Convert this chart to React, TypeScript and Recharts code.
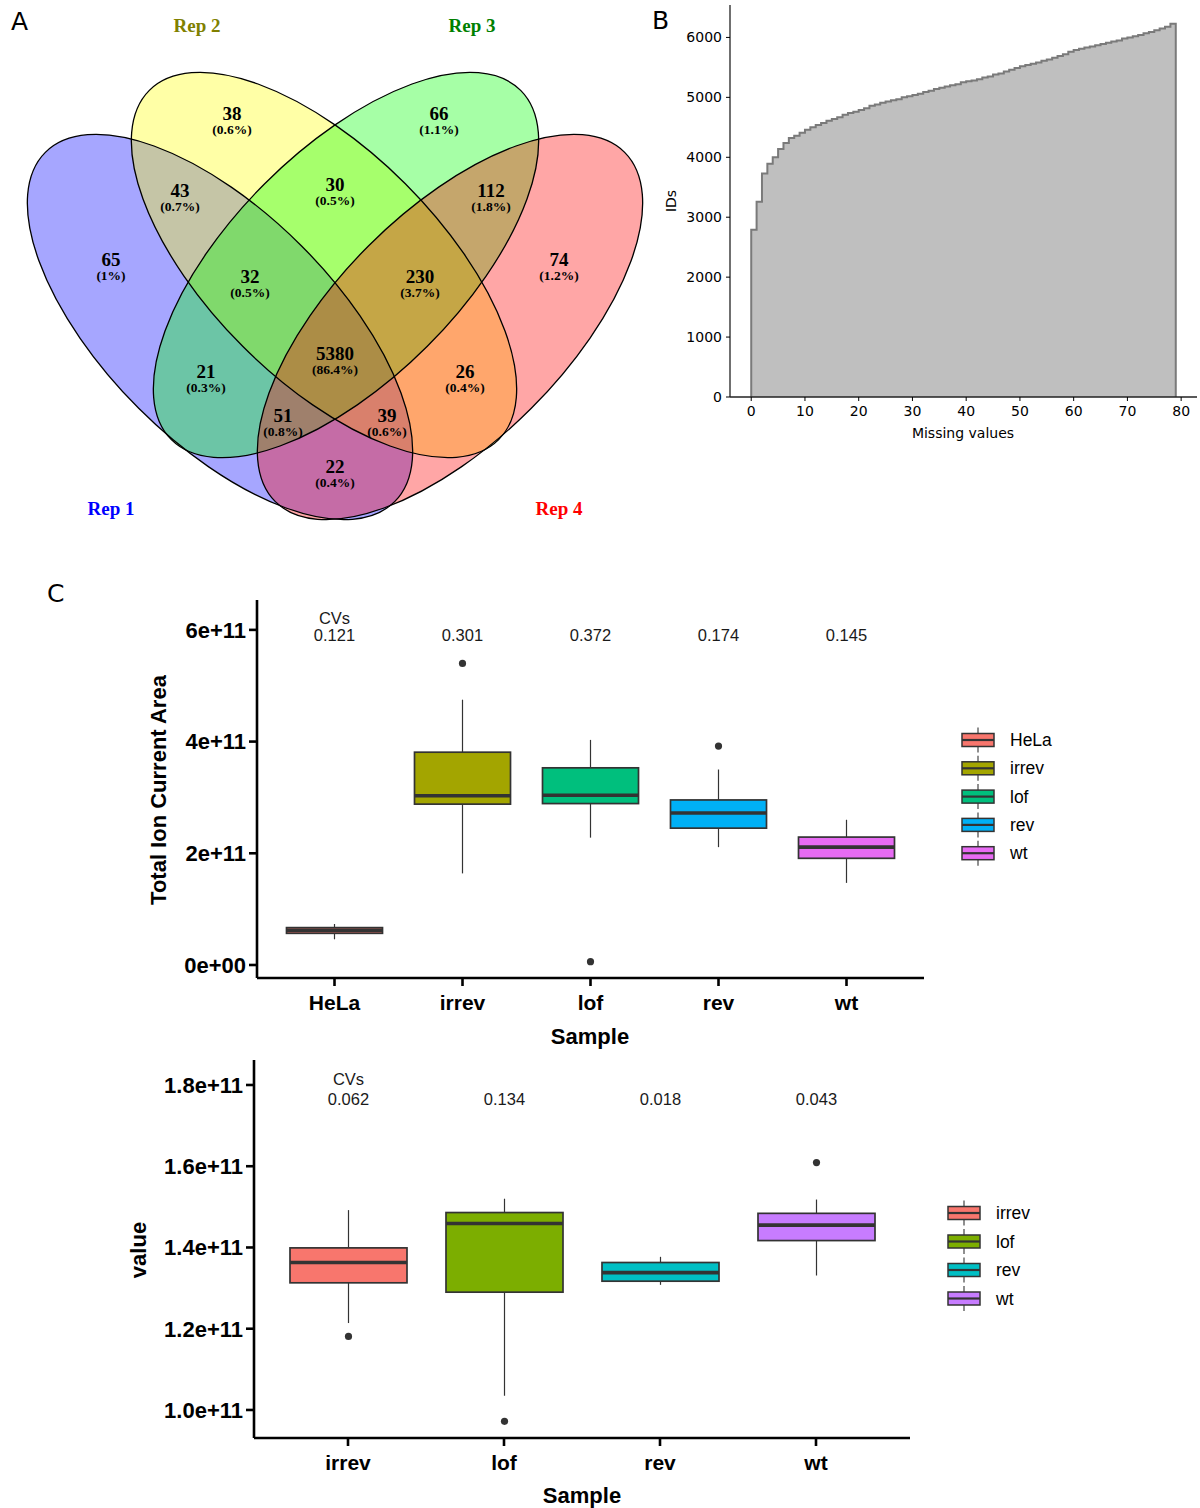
import React from 'react';
import {
  ScatterChart, Scatter, XAxis, YAxis, AreaChart, Area, ComposedChart, Bar, Label,
} from 'recharts';

const FONT_SANS = '"Liberation Sans", Arial, sans-serif';
const FONT_SERIF = '"Liberation Serif", "Times New Roman", serif';
const FONT_MPL = '"DejaVu Sans", sans-serif';

// ================= Panel A: Venn =================
const vennSets = ['Rep 1', 'Rep 2', 'Rep 3', 'Rep 4'];
const vennFill = ['#0000ff', '#ffff00', '#00ff00', '#ff0000'];
const vennLabelColor = ['#0000ff', '#808000', '#008000', '#ff0000'];
// ellipse geometry (layout, in chart pixel units)
const ellipseX = [220, 324, 346, 450];
const ellipseY = [327, 265, 265, 327];
const ellipseRx = [247, 247, 247, 247];
const ellipseRy = [115, 115, 115, 115];
const ellipseAngle = [45, 45, -45, -45];
const setLabelX = [111, 197, 472, 559];
const setLabelY = [508, 25, 25, 508];

const regionCounts = [65, 38, 66, 74, 43, 30, 112, 32, 230, 5380, 21, 26, 51, 39, 22];
const regionPcts = ['(1%)', '(0.6%)', '(1.1%)', '(1.2%)', '(0.7%)', '(0.5%)', '(1.8%)', '(0.5%)', '(3.7%)', '(86.4%)', '(0.3%)', '(0.4%)', '(0.8%)', '(0.6%)', '(0.4%)'];
const regionX = [111, 232, 439, 559, 180, 335, 491, 250, 420, 335, 206, 465, 283, 387, 335];
const regionY = [259, 113, 113, 259, 190, 184, 190, 276, 276, 353, 371, 371, 415, 415, 466];

const ellipseData = vennSets.map((s, i) => ({
  x: ellipseX[i], y: ellipseY[i], rx: ellipseRx[i], ry: ellipseRy[i], angle: ellipseAngle[i], fill: vennFill[i], name: s,
}));
const regionData = regionCounts.map((c, i) => ({ x: regionX[i], y: regionY[i], count: c, pct: regionPcts[i] }));
const setLabelData = vennSets.map((s, i) => ({ x: setLabelX[i], y: setLabelY[i], name: s, color: vennLabelColor[i] }));

const EllipseFill = (p: any) => {
  const d = p.payload;
  return (
    <ellipse cx={p.cx} cy={p.cy} rx={d.rx} ry={d.ry} transform={`rotate(${d.angle} ${p.cx} ${p.cy})`}
      fill={d.fill} fillOpacity={0.35} stroke="none" />
  );
};
const EllipseStroke = (p: any) => {
  const d = p.payload;
  return (
    <ellipse cx={p.cx} cy={p.cy} rx={d.rx} ry={d.ry} transform={`rotate(${d.angle} ${p.cx} ${p.cy})`}
      fill="none" stroke="#000" strokeWidth={1.3} />
  );
};
const RegionLabel = (p: any) => (
  <g>
    <text x={p.cx} y={p.cy} textAnchor="middle" dominantBaseline="central" fontFamily={FONT_SERIF}
      fontWeight="bold" fontSize={19} fill="#000">{p.payload.count}</text>
    <text x={p.cx} y={p.cy + 16} textAnchor="middle" dominantBaseline="central" fontFamily={FONT_SERIF}
      fontWeight="bold" fontSize={13.5} fill="#000">{p.payload.pct}</text>
  </g>
);
const SetLabel = (p: any) => (
  <text x={p.cx} y={p.cy} textAnchor="middle" dominantBaseline="central" fontFamily={FONT_SERIF}
    fontWeight="bold" fontSize={19} fill={p.payload.color}>{p.payload.name}</text>
);

function Venn() {
  return (
    <ScatterChart width={650} height={540} margin={{ top: 0, right: 0, bottom: 0, left: 0 }}>
      <XAxis type="number" dataKey="x" domain={[0, 650]} hide allowDataOverflow />
      <YAxis type="number" dataKey="y" domain={[0, 540]} hide reversed allowDataOverflow />
      <Scatter data={ellipseData} shape={EllipseFill} isAnimationActive={false} />
      <Scatter data={ellipseData} shape={EllipseStroke} isAnimationActive={false} />
      <Scatter data={regionData} shape={RegionLabel} isAnimationActive={false} />
      <Scatter data={setLabelData} shape={SetLabel} isAnimationActive={false} />
    </ScatterChart>
  );
}

// ================= Panel B: cumulative step =================
const missingIds = [
  2790, 3260, 3730, 3890, 4000, 4140, 4240, 4320, 4360, 4410,
  4460, 4500, 4540, 4570, 4610, 4640, 4670, 4710, 4740, 4760,
  4790, 4820, 4860, 4880, 4910, 4930, 4950, 4970, 5000, 5020,
  5040, 5060, 5090, 5110, 5140, 5160, 5180, 5200, 5220, 5250,
  5270, 5280, 5300, 5330, 5350, 5380, 5400, 5430, 5460, 5490,
  5520, 5540, 5560, 5580, 5610, 5630, 5660, 5690, 5720, 5760,
  5790, 5810, 5830, 5850, 5870, 5890, 5910, 5930, 5950, 5980,
  6000, 6020, 6040, 6070, 6090, 6120, 6150, 6180, 6230,
];
const xTicksB = [0, 10, 20, 30, 40, 50, 60, 70, 80];
const yTicksB = [0, 1000, 2000, 3000, 4000, 5000, 6000];
const lastBin = missingIds.length;
const histData = [
  { x: 0, ids: 0 },
  ...missingIds.map((v, i) => ({ x: i, ids: v })),
  { x: lastBin, ids: missingIds[lastBin - 1] },
  { x: lastBin, ids: 0 },
];

function StepChart() {
  const tickStyle = { fontSize: 14, fill: '#000', fontFamily: FONT_MPL };
  return (
    <AreaChart width={550} height={450} data={histData} margin={{ top: 5, right: 3, bottom: 0, left: 0 }}>
      <XAxis type="number" dataKey="x" domain={[-3.95, 82.95]} ticks={xTicksB} allowDataOverflow height={53}
        tick={tickStyle} tickSize={4} tickMargin={5} tickLine={{ stroke: '#000' }} axisLine={{ stroke: '#222', strokeWidth: 1.3 }}>
        <Label content={() => (
          <text x={313} y={433} textAnchor="middle" dominantBaseline="central" fontSize={14} fontFamily={FONT_MPL} fill="#000">Missing values</text>
        )} />
      </XAxis>
      <XAxis xAxisId="top" orientation="top" type="number" domain={[-3.95, 82.95]} allowDataOverflow height={0}
        tick={false} tickLine={false} axisLine={{ stroke: '#222', strokeWidth: 1.3 }} />
      <YAxis type="number" domain={[0, 6541]} ticks={yTicksB} allowDataOverflow width={80}
        tick={tickStyle} tickSize={4} tickMargin={4} tickLine={{ stroke: '#000' }} axisLine={{ stroke: '#222', strokeWidth: 1.3 }}>
        <Label content={() => (
          <text x={21} y={201} transform="rotate(-90 21 201)" textAnchor="middle" dominantBaseline="central" fontSize={14} fontFamily={FONT_MPL} fill="#000">IDs</text>
        )} />
      </YAxis>
      <YAxis yAxisId="right" orientation="right" type="number" domain={[0, 6541]} allowDataOverflow width={0}
        tick={false} tickLine={false} axisLine={{ stroke: '#222', strokeWidth: 1.3 }} />
      <Area type="stepAfter" dataKey="ids" stroke="#7a7a7a" strokeWidth={2} fill="#bfbfbf" fillOpacity={1}
        isAnimationActive={false} dot={false} activeDot={false} />
    </AreaChart>
  );
}

// ================= Panel C: boxplots =================
const topCats = ['HeLa', 'irrev', 'lof', 'rev', 'wt'];
const topColors = ['#F8766D', '#A3A500', '#00BF7D', '#00B0F6', '#E76BF3'];
const topLow = [0.46e11, 1.64e11, 2.28e11, 2.11e11, 1.47e11];
const topQ1 = [0.567e11, 2.88e11, 2.89e11, 2.45e11, 1.91e11];
const topMed = [0.62e11, 3.03e11, 3.04e11, 2.72e11, 2.11e11];
const topQ3 = [0.669e11, 3.81e11, 3.53e11, 2.955e11, 2.29e11];
const topHigh = [0.734e11, 4.75e11, 4.03e11, 3.50e11, 2.60e11];
const topOutliers = [[], [5.40e11], [0.06e11], [3.92e11], []];
const topCVs = ['0.121', '0.301', '0.372', '0.174', '0.145'];
const topYTicks = [0, 2e11, 4e11, 6e11];
const topYLabels = ['0e+00', '2e+11', '4e+11', '6e+11'];
const TOP_CV_Y = 5.90e11;

const botCats = ['irrev', 'lof', 'rev', 'wt'];
const botColors = ['#F8766D', '#7CAE00', '#00BFC4', '#C77CFF'];
const botLow = [1.214e11, 1.035e11, 1.308e11, 1.331e11];
const botQ1 = [1.313e11, 1.290e11, 1.317e11, 1.417e11];
const botMed = [1.363e11, 1.459e11, 1.338e11, 1.455e11];
const botQ3 = [1.399e11, 1.486e11, 1.363e11, 1.484e11];
const botHigh = [1.492e11, 1.520e11, 1.377e11, 1.518e11];
const botOutliers = [[1.181e11], [0.972e11], [], [1.609e11]];
const botCVs = ['0.062', '0.134', '0.018', '0.043'];
const botYTicks = [1.0e11, 1.2e11, 1.4e11, 1.6e11, 1.8e11];
const botYLabels = ['1.0e+11', '1.2e+11', '1.4e+11', '1.6e+11', '1.8e+11'];
const BOT_CV_Y = 1.765e11;

function buildRows(cats: string[], colors: string[], lo: number[], q1: number[], med: number[], q3: number[], hi: number[], outs: number[][], cvs: string[]) {
  return cats.map((name, i) => ({
    name, color: colors[i], lo: lo[i], q1: q1[i], med: med[i], q3: q3[i], hi: hi[i], out: outs[i], cv: cvs[i], first: i === 0,
  }));
}
const topRows = buildRows(topCats, topColors, topLow, topQ1, topMed, topQ3, topHigh, topOutliers, topCVs);
const botRows = buildRows(botCats, botColors, botLow, botQ1, botMed, botQ3, botHigh, botOutliers, botCVs);

const LINE = '#333333';

function BoxShape(props: any) {
  const { x, y, width, height, cvY, headerGap } = props;
  const d = props.payload ?? props;
  const top = Math.min(y, y + height);
  const bottom = Math.max(y, y + height);
  const span = d.hi - d.lo;
  const px = (v: number) => bottom - (bottom - top) * (v - d.lo) / span;
  const cx = x + width / 2;
  return (
    <g>
      <line x1={cx} x2={cx} y1={px(d.hi)} y2={px(d.q3)} stroke={LINE} strokeWidth={1.2} />
      <line x1={cx} x2={cx} y1={px(d.q1)} y2={px(d.lo)} stroke={LINE} strokeWidth={1.2} />
      <rect x={x} y={px(d.q3)} width={width} height={px(d.q1) - px(d.q3)} fill={d.color} stroke={LINE} strokeWidth={1.7} />
      <line x1={x} x2={x + width} y1={px(d.med)} y2={px(d.med)} stroke={LINE} strokeWidth={3.6} />
      {d.out.map((o: number, k: number) => (
        <circle key={k} cx={cx} cy={px(o)} r={3.6} fill={LINE} />
      ))}
      <text x={cx} y={px(cvY)} textAnchor="middle" dominantBaseline="central" fontFamily={FONT_SANS} fontSize={16.5} fill="#1a1a1a">{d.cv}</text>
      {d.first && (
        <text x={cx} y={px(cvY) - headerGap} textAnchor="middle" dominantBaseline="central" fontFamily={FONT_SANS} fontSize={16.5} fill="#1a1a1a">CVs</text>
      )}
    </g>
  );
}

function BoxChart(p: {
  rows: any[]; width: number; height: number; margin: any; yWidth: number; xHeight: number; pad: number; barSize: number;
  domain: [number, number]; ticks: number[]; tickLabels: string[]; cvY: number; headerGap: number;
  yTitle: string; yTitleX: number; yTitleY: number; xTitleX: number; xTitleY: number;
}) {
  const fmt = (v: number) => {
    const i = p.ticks.findIndex((t) => Math.abs(t - v) < 1e6);
    return i >= 0 ? p.tickLabels[i] : String(v);
  };
  const axisLine = { stroke: '#000', strokeWidth: 2.6 };
  const tickLine = { stroke: '#000', strokeWidth: 2.6 };
  const xtick = { fontSize: 21, fontWeight: 'bold', fill: '#000', fontFamily: FONT_SANS };
  const ytick = { fontSize: 22, fontWeight: 'bold', fill: '#000', fontFamily: FONT_SANS };
  return (
    <ComposedChart width={p.width} height={p.height} data={p.rows} margin={p.margin}>
      <XAxis dataKey="name" type="category" padding={{ left: p.pad, right: p.pad }} height={p.xHeight}
        tick={xtick} tickSize={8} tickMargin={9} tickLine={tickLine} axisLine={axisLine}>
        <Label content={() => (
          <text x={p.xTitleX} y={p.xTitleY} textAnchor="middle" dominantBaseline="central" fontSize={22} fontWeight="bold" fontFamily={FONT_SANS} fill="#000">Sample</text>
        )} />
      </XAxis>
      <YAxis type="number" domain={p.domain} ticks={p.ticks} allowDataOverflow width={p.yWidth}
        tickFormatter={fmt} tick={ytick} tickSize={8} tickMargin={3} tickLine={tickLine} axisLine={axisLine}>
        <Label content={() => (
          <text x={p.yTitleX} y={p.yTitleY} transform={`rotate(-90 ${p.yTitleX} ${p.yTitleY})`} textAnchor="middle" dominantBaseline="central" fontSize={22} fontWeight="bold" fontFamily={FONT_SANS} fill="#000">{p.yTitle}</text>
        )} />
      </YAxis>
      <Bar dataKey={(d: any) => [d.lo, d.hi]} barSize={p.barSize} isAnimationActive={false}
        shape={(sp: any) => <BoxShape {...sp} cvY={p.cvY} headerGap={p.headerGap} />} activeBar={false} />
    </ComposedChart>
  );
}

function BoxLegend(p: { cats: string[]; colors: string[]; spacing: number }) {
  const keyW = 32;
  const boxH = 13;
  const stub = 6;
  const h = p.spacing * p.cats.length + 10;
  return (
    <svg width={120} height={h}>
      {p.cats.map((c, i) => {
        const cy = 14 + i * p.spacing;
        return (
          <g key={c}>
            <line x1={keyW / 2 + 1} x2={keyW / 2 + 1} y1={cy - boxH / 2 - stub} y2={cy + boxH / 2 + stub} stroke={LINE} strokeWidth={1.1} />
            <rect x={1} y={cy - boxH / 2} width={keyW} height={boxH} fill={p.colors[i]} stroke={LINE} strokeWidth={1.5} />
            <line x1={1} x2={keyW + 1} y1={cy} y2={cy} stroke={LINE} strokeWidth={2.2} />
            <text x={keyW + 17} y={cy} dominantBaseline="central" fontFamily={FONT_SANS} fontSize={17.5} fill="#000">{c}</text>
          </g>
        );
      })}
    </svg>
  );
}

const abs = (left: number, top: number): React.CSSProperties => ({ position: 'absolute', left, top });
const letterStyle: React.CSSProperties = { position: 'absolute', fontFamily: FONT_MPL, fontSize: 25, lineHeight: '25px', color: '#000' };

export default function App() {
  return (
    <div style={{ position: 'absolute', left: 0, top: 0, width: 1200, height: 1508, background: '#fff', overflow: 'hidden' }}>
      <div style={{ ...letterStyle, left: 11, top: 9 }}>A</div>
      <div style={{ ...letterStyle, left: 652, top: 8 }}>B</div>
      <div style={{ ...letterStyle, left: 47, top: 581 }}>C</div>

      <div style={abs(0, 0)}><Venn /></div>
      <div style={abs(650, 0)}><StepChart /></div>

      <div style={abs(0, 560)}>
        <BoxChart rows={topRows} width={930} height={500} margin={{ top: 40, right: 6, bottom: 0, left: 0 }}
          yWidth={257} xHeight={82} pad={13.5} barSize={96} domain={[-0.233e11, 6.535e11]}
          ticks={topYTicks} tickLabels={topYLabels} cvY={TOP_CV_Y} headerGap={17}
          yTitle="Total Ion Current Area" yTitleX={158} yTitleY={230} xTitleX={590} xTitleY={476} />
      </div>
      <div style={abs(961, 726)}><BoxLegend cats={topCats} colors={topColors} spacing={28.3} /></div>

      <div style={abs(0, 1030)}>
        <BoxChart rows={botRows} width={920} height={478} margin={{ top: 30, right: 10, bottom: 0, left: 0 }}
          yWidth={254} xHeight={70} pad={16} barSize={117} domain={[0.931e11, 1.8615e11]}
          ticks={botYTicks} tickLabels={botYLabels} cvY={BOT_CV_Y} headerGap={20}
          yTitle="value" yTitleX={138} yTitleY={220} xTitleX={582} xTitleY={465} />
      </div>
      <div style={abs(947, 1199)}><BoxLegend cats={botCats} colors={botColors} spacing={28.5} /></div>
    </div>
  );
}
